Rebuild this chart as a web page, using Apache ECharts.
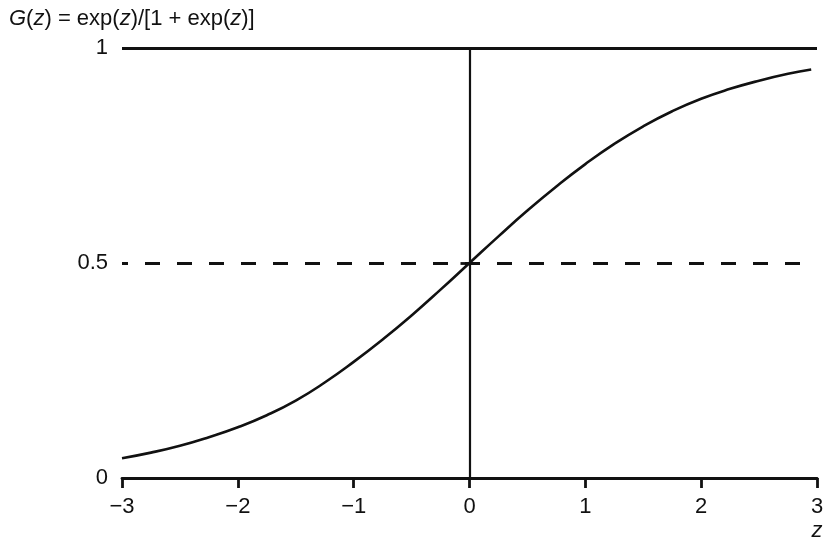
<!DOCTYPE html>
<html>
<head>
<meta charset="utf-8">
<title>logistic</title>
<script src="https://cdn.jsdelivr.net/npm/echarts@6/dist/echarts.min.js"></script>
<style>
  html, body { margin: 0; padding: 0; background: #fff; }
  #chartData { width: 833px; height: 549px; }
</style>
</head>
<body>
<div id="chartData"></div>
<script>
// values
var zValues = [-3, -2.75, -2.5, -2.25, -2, -1.75, -1.5, -1.25, -1, -0.75, -0.5, -0.25, 0,
               0.25, 0.5, 0.75, 1, 1.25, 1.5, 1.75, 2, 2.25, 2.5, 2.75, 2.95];
var gValues = [0.046, 0.059, 0.075, 0.095, 0.118, 0.146, 0.18, 0.222, 0.27, 0.322, 0.378, 0.438, 0.5,
               0.562, 0.622, 0.678, 0.73, 0.777, 0.818, 0.853, 0.882, 0.905, 0.924, 0.94, 0.95];
var xTicks = [-3, -2, -1, 0, 1, 2, 3];
var yTicks = [0, 0.5, 1];
var refLevel = 1, halfLevel = 0.5;

var ink = '#111';
var font = 'Liberation Sans, Arial, sans-serif';

var curve = [];
for (var i = 0; i < zValues.length; i++) {
    curve.push([zValues[i], gValues[i]]);
}

var myChart = echarts.init(document.getElementById('chartData'));

var option = {
    backgroundColor: '#fff',
    animation: false,
    title: {
        text: '{i|G}({i|z}) = exp({i|z})/[1 + exp({i|z})]',
        left: 4,
        top: 3,
        textStyle: {
            fontFamily: font,
            fontSize: 22,
            fontWeight: 'normal',
            color: ink,
            rich: {
                i: { fontFamily: font, fontSize: 22, fontStyle: 'italic', color: ink }
            }
        }
    },
    grid: {
        left: 122,
        right: 16,
        top: 48,
        bottom: 71,
        containLabel: false,
        outerBoundsMode: 'none'
    },
    xAxis: {
        type: 'value',
        min: xTicks[0],
        max: xTicks[xTicks.length - 1],
        interval: 1,
        name: 'z',
        nameLocation: 'end',
        nameGap: 0,
        nameTextStyle: {
            fontFamily: font,
            fontSize: 22,
            fontStyle: 'italic',
            color: ink,
            align: 'center',
            verticalAlign: 'top',
            padding: [42, 0, 0, 0]
        },
        axisLine: { show: true, onZero: false, lineStyle: { color: ink, width: 2.8 } },
        axisTick: { show: true, inside: false, length: 10, lineStyle: { color: ink, width: 2.8 } },
        axisLabel: {
            margin: 18,
            fontFamily: font,
            fontSize: 22,
            color: ink,
            formatter: function (v) {
                return v < 0 ? '\u2212' + (-v) : String(v);
            }
        },
        splitLine: { show: false }
    },
    yAxis: {
        type: 'value',
        min: yTicks[0],
        max: yTicks[yTicks.length - 1],
        interval: 0.5,
        axisLine: { show: false },
        axisTick: { show: true, inside: false, length: 9, lineStyle: { color: ink, width: 2.8 } },
        axisLabel: {
            margin: 14,
            fontFamily: font,
            fontSize: 22,
            color: ink,
            formatter: function (v) { return String(v); }
        },
        splitLine: { show: false }
    },
    series: [{
        type: 'line',
        data: curve,
        smooth: true,
        symbol: 'none',
        lineStyle: { color: ink, width: 2.6 },
        markLine: {
            silent: true,
            symbol: 'none',
            label: { show: false },
            data: [
                { yAxis: refLevel, lineStyle: { color: ink, width: 2.8, type: 'solid' } },
                { yAxis: halfLevel, lineStyle: { color: ink, width: 2.8, type: [15, 17], dashOffset: 9 } },
                { xAxis: 0, lineStyle: { color: ink, width: 2.2, type: 'solid' } }
            ]
        }
    }]
};

myChart.setOption(option);
</script>
</body>
</html>
